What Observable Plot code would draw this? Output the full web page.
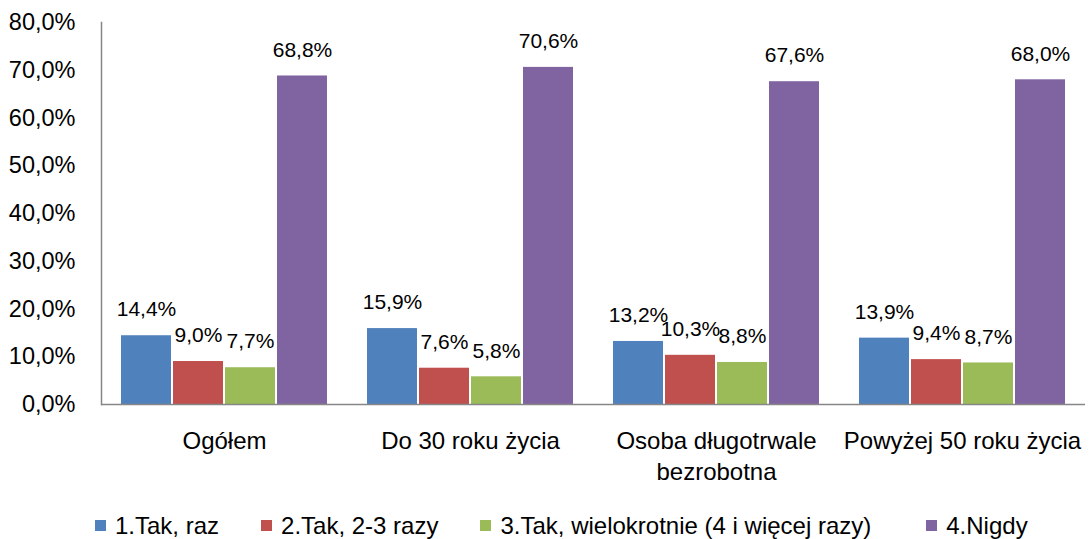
<!DOCTYPE html>
<html>
<head>
<meta charset="utf-8">
<script src="https://cdn.jsdelivr.net/npm/d3@7"></script>
<script src="https://cdn.jsdelivr.net/npm/@observablehq/plot@0.6"></script>
<style>
  html, body { margin: 0; padding: 0; background: #fff; }
  #chart svg { display: block; }
  .legend { display: flex; align-items: center; padding-left: 95px; height: 39px; padding-top: 10px; font-family: "Liberation Sans", Arial, sans-serif; font-size: 24px; color: #000; }
  .legend .item { display: flex; align-items: center; margin-right: 42px; }
  .legend .item:nth-child(3) { margin-right: 55px; }
  .legend .sw { width: 11px; height: 11px; margin-right: 9px; }
</style>
</head>
<body>
<div id="chart"></div>
<script>
const categories = ["Ogółem", "Do 30 roku życia", "Osoba długotrwale bezrobotna", "Powyżej 50 roku życia"];
const categoryLabels = ["Ogółem", "Do 30 roku życia", "Osoba długotrwale\nbezrobotna", "Powyżej 50 roku życia"];
const series = ["1.Tak, raz", "2.Tak, 2-3 razy", "3.Tak, wielokrotnie (4 i więcej razy)", "4.Nigdy"];
const takRaz = [14.4, 15.9, 13.2, 13.9];
const tak23 = [9.0, 7.6, 10.3, 9.4];
const takWiele = [7.7, 5.8, 8.8, 8.7];
const nigdy = [68.8, 70.6, 67.6, 68.0];
const yTicks = [0, 10, 20, 30, 40, 50, 60, 70, 80];
const colors = ["#4F81BD", "#C0504D", "#9BBB59", "#8064A2"];

const seriesValues = [takRaz, tak23, takWiele, nigdy];
const rows = [];
categories.forEach((c, i) => {
  series.forEach((s, j) => rows.push({category: c, series: s, value: seriesValues[j][i]}));
});
const pct = v => v.toFixed(1).replace(".", ",") + "%";
const labelOf = c => categoryLabels[categories.indexOf(c)];

const chart = Plot.plot({
  width: 1089,
  height: 496,
  marginLeft: 101,
  marginRight: 4,
  marginTop: 22,
  marginBottom: 92,
  style: {fontFamily: "'Liberation Sans', Arial, sans-serif", fontSize: "22px", color: "#000", background: "#fff"},
  fx: {domain: categories, padding: 0, label: null},
  x: {domain: series, paddingInner: 0.04, paddingOuter: 0.375, axis: null},
  y: {domain: [0, 80], label: null},
  color: {domain: series, range: colors},
  marks: [
    Plot.barY(rows, {fx: "category", x: "series", y: "value", fill: "series"}),
    Plot.ruleY([0], {stroke: "#868686", strokeWidth: 1.5}),
    Plot.frame({anchor: "left", fx: categories[0], stroke: "#868686", strokeWidth: 1.5}),
    Plot.text(rows, {fx: "category", x: "series", y: "value", text: d => pct(d.value), dy: -26, fontSize: 21, fill: "#000"}),
    Plot.axisY({ticks: yTicks, tickSize: 0, tickPadding: 26, tickFormat: pct, fontSize: 23.5, label: null}),
    Plot.axisFx({anchor: "bottom", tickSize: 0, tickPadding: 22, tickFormat: labelOf, fontSize: 24, lineHeight: 1.3, label: null})
  ]
});
document.getElementById("chart").appendChild(chart);

const legend = d3.select("body").append("div").attr("class", "legend");
series.forEach((s, j) => {
  const it = legend.append("div").attr("class", "item");
  it.append("div").attr("class", "sw").style("background", colors[j]);
  it.append("span").text(s);
});
</script>
</body>
</html>
